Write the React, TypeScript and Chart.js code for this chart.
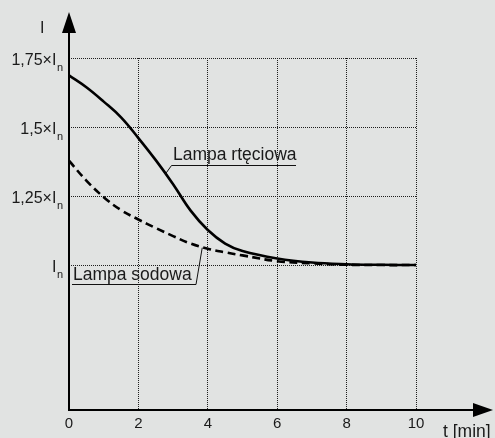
import React, { useEffect, useRef } from "react";
import { Chart, registerables } from "chart.js";

Chart.register(...registerables);

// ---- data ----
const times = [0, 0.5, 1, 1.5, 2, 2.5, 3, 3.5, 4, 4.5, 5, 6, 7, 8, 9, 10];
const mercury = [1.687, 1.644, 1.592, 1.535, 1.46, 1.38, 1.293, 1.198, 1.127, 1.078, 1.051, 1.024, 1.009, 1.003, 1.001, 1.0];
const sodium = [1.378, 1.306, 1.246, 1.199, 1.165, 1.134, 1.105, 1.078, 1.059, 1.046, 1.035, 1.014, 1.006, 1.001, 1.0, 1.0];
const seriesNames = ["Lampa rtęciowa", "Lampa sodowa"];
const xTicks = [0, 2, 4, 6, 8, 10];
const xTickLabels = ["0", "2", "4", "6", "8", "10"];
const yTicks = [1, 1.25, 1.5, 1.75];
const yTickLabels = ["I", "1,25×I", "1,5×I", "1,75×I"];
const yTickSub = "n";
const xAxisTitle = "t [min]";
const yAxisTitle = "I";

const BG = "#e1e3e2";
const FONT = "'Liberation Sans', Arial, Helvetica, sans-serif";
const TEXT = "#1a1a1a";
const GRID = "#1e1e1e";

const overlay = {
  id: "overlay",
  beforeDraw(chart: any) {
    const { ctx, width, height } = chart;
    ctx.save();
    ctx.fillStyle = BG;
    ctx.fillRect(0, 0, width, height);
    ctx.restore();
  },
  afterDraw(chart: any) {
    const { ctx, chartArea } = chart;
    const xs = chart.scales.x;
    const ys = chart.scales.y;
    const x0 = xs.getPixelForValue(0);
    const yb = chartArea.bottom;
    ctx.save();
    // axes
    ctx.strokeStyle = "#000";
    ctx.fillStyle = "#000";
    ctx.lineWidth = 2;
    ctx.setLineDash([]);
    ctx.beginPath();
    ctx.moveTo(x0, yb + 1);
    ctx.lineTo(x0, 30);
    ctx.stroke();
    ctx.beginPath();
    ctx.moveTo(x0, 12);
    ctx.lineTo(x0 - 7, 33);
    ctx.lineTo(x0 + 7, 33);
    ctx.closePath();
    ctx.fill();
    ctx.beginPath();
    ctx.moveTo(x0 - 1, yb);
    ctx.lineTo(476, yb);
    ctx.stroke();
    ctx.beginPath();
    ctx.moveTo(493, yb);
    ctx.lineTo(473, yb - 7);
    ctx.lineTo(473, yb + 7);
    ctx.closePath();
    ctx.fill();

    // y tick labels with subscript
    ctx.fillStyle = TEXT;
    ctx.textBaseline = "alphabetic";
    const subRight = x0 - 6;
    yTicks.forEach((v, i) => {
      const py = ys.getPixelForValue(v);
      ctx.font = `11px ${FONT}`;
      const sw = ctx.measureText(yTickSub).width;
      ctx.textAlign = "left";
      ctx.fillText(yTickSub, subRight - sw, py + 12.5);
      ctx.font = `16px ${FONT}`;
      ctx.textAlign = "right";
      ctx.fillText(yTickLabels[i], subRight - sw - 0.5, py + 6.5);
    });
    // x tick labels
    ctx.font = `15px ${FONT}`;
    ctx.textAlign = "center";
    xTicks.forEach((v, i) => {
      ctx.fillText(xTickLabels[i], xs.getPixelForValue(v), 428);
    });
    // axis titles
    ctx.font = `16px ${FONT}`;
    ctx.textAlign = "left";
    ctx.fillText(yAxisTitle, 40, 33);
    ctx.font = `17.5px ${FONT}`;
    ctx.fillText(xAxisTitle, 443, 437);

    // annotations
    ctx.lineWidth = 1;
    ctx.strokeStyle = "#111";
    ctx.font = `17.5px ${FONT}`;
    ctx.textAlign = "left";
    ctx.fillText(seriesNames[0], 173, 160);
    ctx.beginPath();
    const m = { x: xs.getPixelForValue(2.78), y: ys.getPixelForValue(1.33) };
    ctx.moveTo(m.x, m.y);
    ctx.lineTo(171.5, 165.5);
    ctx.lineTo(296, 165.5);
    ctx.stroke();

    ctx.fillText(seriesNames[1], 73, 280);
    ctx.beginPath();
    ctx.moveTo(72, 284.5);
    ctx.lineTo(196, 284.5);
    const s = { x: xs.getPixelForValue(3.84), y: ys.getPixelForValue(1.063) };
    ctx.lineTo(s.x, s.y);
    ctx.stroke();
    ctx.restore();
  },
};

export default function App() {
  const ref = useRef<HTMLCanvasElement | null>(null);
  useEffect(() => {
    if (!ref.current) return;
    const chart = new Chart(ref.current, {
      type: "line",
      data: {
        datasets: [
          {
            label: seriesNames[0],
            data: times.map((t, i) => ({ x: t, y: mercury[i] })),
            borderColor: "#000",
            borderWidth: 2.6,
            pointRadius: 0,
            tension: 0.4,
            fill: false,
          },
          {
            label: seriesNames[1],
            data: times.map((t, i) => ({ x: t, y: sodium[i] })),
            borderColor: "#000",
            borderWidth: 2.6,
            borderDash: [8, 4.5],
            pointRadius: 0,
            tension: 0.4,
            fill: false,
          },
        ],
      },
      options: {
        responsive: false,
        animation: false,
        layout: { padding: { left: 69, right: 79, top: 58, bottom: 28 } },
        plugins: { legend: { display: false }, tooltip: { enabled: false } },
        scales: {
          x: {
            type: "linear",
            min: 0,
            max: 10,
            afterBuildTicks: (s: any) => {
              s.ticks = xTicks.map((v) => ({ value: v }));
            },
            afterFit: (s: any) => {
              s.height = 0;
            },
            ticks: { display: false },
            grid: { color: GRID, lineWidth: 1, drawTicks: false },
            border: { display: false, dash: [1, 1] },
          },
          y: {
            type: "linear",
            min: 0.475,
            max: 1.75,
            afterBuildTicks: (s: any) => {
              s.ticks = yTicks.map((v) => ({ value: v }));
            },
            afterFit: (s: any) => {
              s.width = 0;
            },
            ticks: { display: false },
            grid: { color: GRID, lineWidth: 1, drawTicks: false },
            border: { display: false, dash: [1, 1] },
          },
        },
      } as any,
      plugins: [overlay],
    });
    return () => chart.destroy();
  }, []);
  return (
    <div style={{ position: "fixed", left: 0, top: 0, width: 495, height: 438, background: BG }}>
      <canvas ref={ref} width={495} height={438} style={{ display: "block" }} />
    </div>
  );
}
